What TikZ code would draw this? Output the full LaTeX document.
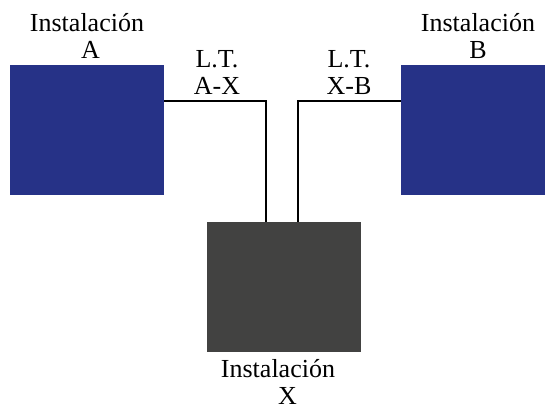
\documentclass[tikz,border=0pt]{standalone}
\usepackage{fontspec}
\setmainfont{Liberation Serif}
\definecolor{instblue}{HTML}{263287}
\definecolor{instgray}{HTML}{424241}
\tikzset{
  x=1pt, y=1pt,
  inst/.style={rectangle, inner sep=0pt, minimum height=130pt, draw=none},
  lbl/.style={align=center, anchor=base, inner sep=0pt, font=\fontsize{26}{27}\selectfont},
  wire/.style={line width=2pt, black}
}
\begin{document}
\begin{tikzpicture}
\useasboundingbox (0,0) rectangle (545,407);
\node[inst, fill=instblue, minimum width=154pt] (A) at (87,277) {};
\node[inst, fill=instblue, minimum width=144pt] (B) at (473,277) {};
\node[inst, fill=instgray, minimum width=154pt] (X) at (284,120) {};
\node[lbl] (la) at (87,348) {Instalación\\\hphantom{i}A};
\node[lbl] (lb) at (478,348) {Instalación\\B};
\node[lbl] (lx) at (278,3) {Instalación\\\hphantom{X}X};
\node[lbl] (lax) at (217,312) {L.T.\\A-X};
\node[lbl] (lxb) at (349,312) {L.T.\\X-B};
\draw[wire] ([yshift=29pt]A.east) -| ([xshift=-18pt]X.north);
\draw[wire] ([yshift=29pt]B.west) -| ([xshift=14pt]X.north);
\end{tikzpicture}
\end{document}
